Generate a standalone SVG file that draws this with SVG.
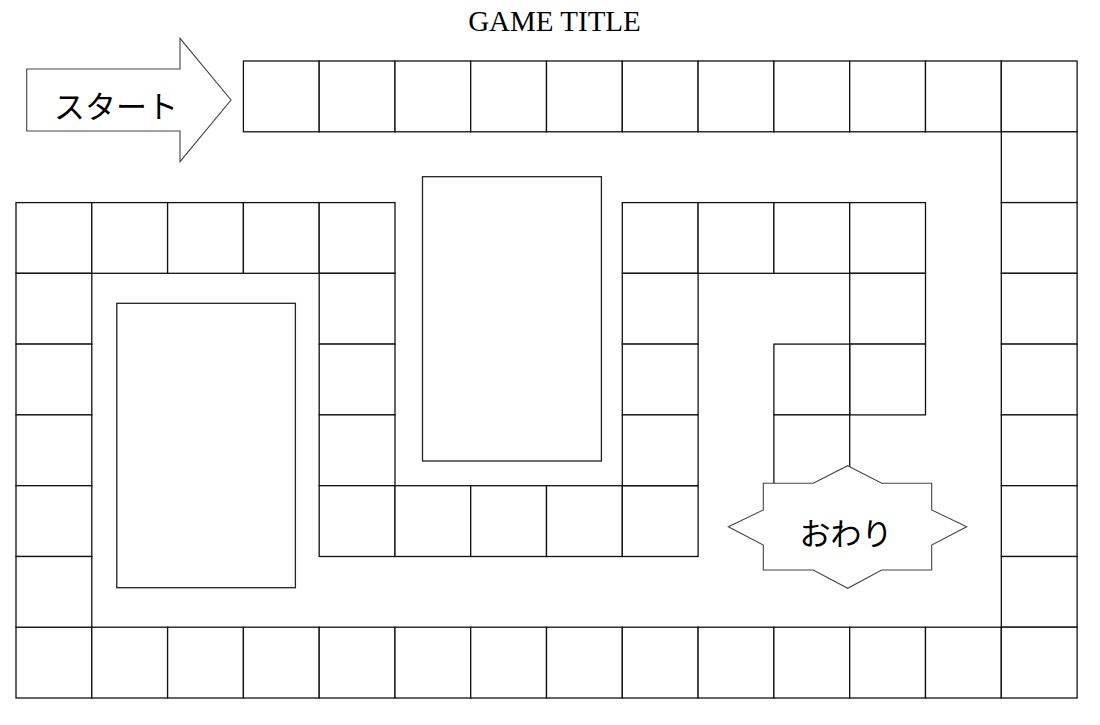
<svg xmlns="http://www.w3.org/2000/svg" width="1100" height="725" viewBox="0 0 1100 725">
<style>
.cell{fill:#fff;stroke:#111;stroke-width:1.3}
.panel{fill:#fff;stroke:#222;stroke-width:1.3}
.shape{fill:#fff;stroke:#444;stroke-width:1.1}
.jp{font-family:"Noto Sans CJK JP","Noto Sans",sans-serif;font-size:31px;fill:#000}
.title{font-family:"Liberation Serif",serif;font-size:29px;fill:#000}
</style>
<rect width="1100" height="725" fill="#fff"/>
<text class="title" x="554.5" y="30.7" text-anchor="middle">GAME TITLE</text>
<g id="track">
<!-- top row -->
<rect class="cell" x="243.4" y="61" width="75.8" height="70.8"/>
<rect class="cell" x="319.2" y="61" width="75.8" height="70.8"/>
<rect class="cell" x="395" y="61" width="75.7" height="70.8"/>
<rect class="cell" x="470.7" y="61" width="75.8" height="70.8"/>
<rect class="cell" x="546.5" y="61" width="75.8" height="70.8"/>
<rect class="cell" x="622.3" y="61" width="75.8" height="70.8"/>
<rect class="cell" x="698.1" y="61" width="75.8" height="70.8"/>
<rect class="cell" x="773.9" y="61" width="75.8" height="70.8"/>
<rect class="cell" x="849.7" y="61" width="75.8" height="70.8"/>
<rect class="cell" x="925.5" y="61" width="75.8" height="70.8"/>
<rect class="cell" x="1001.3" y="61" width="75.8" height="70.8"/>
<!-- right column -->
<rect class="cell" x="1001.3" y="131.8" width="75.8" height="70.8"/>
<rect class="cell" x="1001.3" y="202.6" width="75.8" height="70.7"/>
<rect class="cell" x="1001.3" y="273.3" width="75.8" height="70.8"/>
<rect class="cell" x="1001.3" y="344.1" width="75.8" height="70.8"/>
<rect class="cell" x="1001.3" y="414.9" width="75.8" height="70.8"/>
<rect class="cell" x="1001.3" y="485.7" width="75.8" height="70.8"/>
<rect class="cell" x="1001.3" y="556.5" width="75.8" height="70.7"/>
<!-- bottom row -->
<rect class="cell" x="16" y="627.2" width="75.8" height="70.8"/>
<rect class="cell" x="91.8" y="627.2" width="75.8" height="70.8"/>
<rect class="cell" x="167.6" y="627.2" width="75.8" height="70.8"/>
<rect class="cell" x="243.4" y="627.2" width="75.8" height="70.8"/>
<rect class="cell" x="319.2" y="627.2" width="75.8" height="70.8"/>
<rect class="cell" x="395" y="627.2" width="75.7" height="70.8"/>
<rect class="cell" x="470.7" y="627.2" width="75.8" height="70.8"/>
<rect class="cell" x="546.5" y="627.2" width="75.8" height="70.8"/>
<rect class="cell" x="622.3" y="627.2" width="75.8" height="70.8"/>
<rect class="cell" x="698.1" y="627.2" width="75.8" height="70.8"/>
<rect class="cell" x="773.9" y="627.2" width="75.8" height="70.8"/>
<rect class="cell" x="849.7" y="627.2" width="75.8" height="70.8"/>
<rect class="cell" x="925.5" y="627.2" width="75.8" height="70.8"/>
<rect class="cell" x="1001.3" y="627.2" width="75.8" height="70.8"/>
<!-- left column -->
<rect class="cell" x="16" y="202.6" width="75.8" height="70.7"/>
<rect class="cell" x="16" y="273.3" width="75.8" height="70.8"/>
<rect class="cell" x="16" y="344.1" width="75.8" height="70.8"/>
<rect class="cell" x="16" y="414.9" width="75.8" height="70.8"/>
<rect class="cell" x="16" y="485.7" width="75.8" height="70.8"/>
<rect class="cell" x="16" y="556.5" width="75.8" height="70.7"/>
<!-- upper-left row -->
<rect class="cell" x="91.8" y="202.6" width="75.8" height="70.7"/>
<rect class="cell" x="167.6" y="202.6" width="75.8" height="70.7"/>
<rect class="cell" x="243.4" y="202.6" width="75.8" height="70.7"/>
<rect class="cell" x="319.2" y="202.6" width="75.8" height="70.7"/>
<!-- column at 319 -->
<rect class="cell" x="319.2" y="273.3" width="75.8" height="70.8"/>
<rect class="cell" x="319.2" y="344.1" width="75.8" height="70.8"/>
<rect class="cell" x="319.2" y="414.9" width="75.8" height="70.8"/>
<rect class="cell" x="319.2" y="485.7" width="75.8" height="70.8"/>
<!-- middle bottom row -->
<rect class="cell" x="395" y="485.7" width="75.7" height="70.8"/>
<rect class="cell" x="470.7" y="485.7" width="75.8" height="70.8"/>
<rect class="cell" x="546.5" y="485.7" width="75.8" height="70.8"/>
<rect class="cell" x="622.3" y="485.7" width="75.8" height="70.8"/>
<!-- column at 623 -->
<rect class="cell" x="622.3" y="202.6" width="75.8" height="70.7"/>
<rect class="cell" x="622.3" y="273.3" width="75.8" height="70.8"/>
<rect class="cell" x="622.3" y="344.1" width="75.8" height="70.8"/>
<rect class="cell" x="622.3" y="414.9" width="75.8" height="70.8"/>
<!-- upper-right row -->
<rect class="cell" x="698.1" y="202.6" width="75.8" height="70.7"/>
<rect class="cell" x="773.9" y="202.6" width="75.8" height="70.7"/>
<rect class="cell" x="849.7" y="202.6" width="75.8" height="70.7"/>
<!-- inner spiral -->
<rect class="cell" x="849.7" y="273.3" width="75.8" height="70.8"/>
<rect class="cell" x="849.7" y="344.1" width="75.8" height="70.8"/>
<rect class="cell" x="773.9" y="344.1" width="75.8" height="70.8"/>
<rect class="cell" x="773.9" y="414.9" width="75.8" height="70.8"/>
</g>
<g id="panel-left"><rect class="panel" x="116.8" y="303.3" width="178.6" height="284.4"/></g>
<g id="panel-middle"><rect class="panel" x="422.5" y="176.7" width="178.9" height="284.3"/></g>
<g id="start">
<polygon class="shape" points="26.7,69 180,69 180,38.3 231,100 180,161.7 180,131 26.7,131"/>
<text class="jp" x="116" y="118" text-anchor="middle">スタート</text>
</g>
<g id="goal">
<polygon class="shape" points="847.7,465.7 881.7,483.3 931.7,483.3 931.7,510 966.7,526.7 931.7,545 931.7,570 881.7,570 847.7,588.3 813.3,570 763.3,570 763.3,545 728.3,526.7 763.3,510 763.3,483.3 813.3,483.3"/>
<text class="jp" x="846" y="544.5" text-anchor="middle">おわり</text>
</g>
<g id="connectors"/>
</svg>
